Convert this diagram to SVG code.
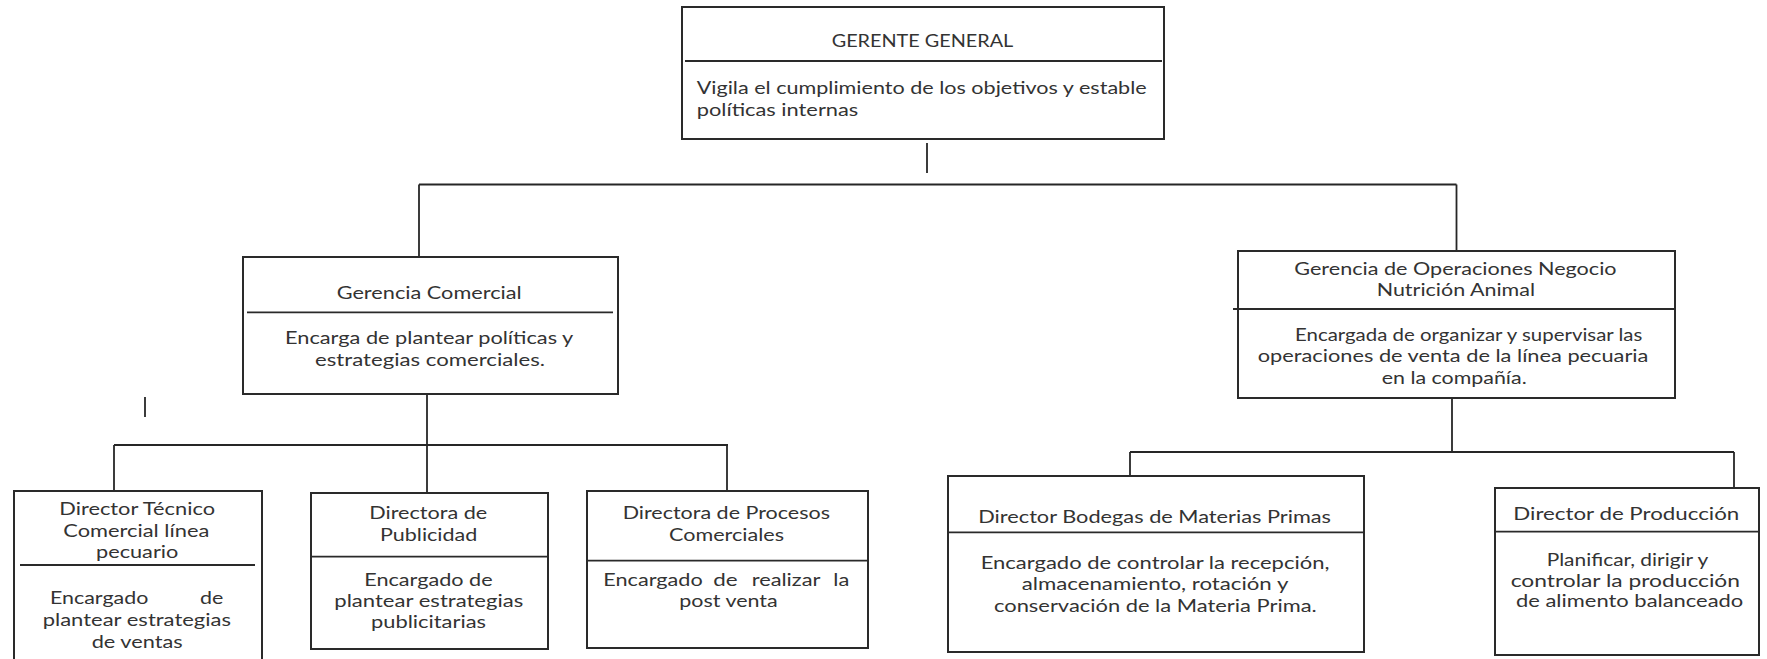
<svg xmlns="http://www.w3.org/2000/svg" width="1767" height="659" viewBox="0 0 1767 659">
  <style>
    .box { fill: #ffffff; stroke: #2a2a2a; stroke-width: 2; }
    .sep { stroke: #2a2a2a; stroke-width: 1.8; fill: none; }
    .conn { stroke: #262626; stroke-width: 1.8; fill: none; }
    text { font-family: Lato, "Open Sans", "Liberation Sans", sans-serif; fill: #333333; }
    .title { font-size: 16.5px; }
    .body { font-size: 17.5px; }
    .lead { font-size: 18px; }
  </style>
  <rect x="0" y="0" width="1767" height="659" fill="#ffffff"/>

  <!-- connectors of the chart -->
  <g id="connectors">
    <path class="conn" d="M927 143 V173"/>
    <path class="conn" d="M419 184.5 H1456.5"/>
    <path class="conn" d="M419 184.5 V257"/>
    <path class="conn" d="M1456.5 184.5 V251"/>
    <path class="conn" d="M427 394 V445"/>
    <path class="conn" d="M114 445 H728"/>
    <path class="conn" d="M114 445 V491"/>
    <path class="conn" d="M427 445 V493"/>
    <path class="conn" d="M727 445 V491"/>
    <path class="conn" d="M145 397 V417"/>
    <path class="conn" d="M1452 398 V452"/>
    <path class="conn" d="M1130 452 H1734"/>
    <path class="conn" d="M1130 452 V476"/>
    <path class="conn" d="M1734 452 V488"/>
  </g>

  <g id="gerente-general">
    <rect class="box" x="682" y="7" width="482" height="132"/>
    <line class="sep" x1="685" y1="61" x2="1162" y2="61"/>
    <text class="title" x="831.7" y="46.7" textLength="181.6" lengthAdjust="spacingAndGlyphs">GERENTE GENERAL</text>
    <text class="lead" x="696.7" y="94" textLength="450" lengthAdjust="spacingAndGlyphs">Vigila el cumplimiento de los objetivos y estable</text>
    <text class="lead" x="696.7" y="115.7" textLength="161.6" lengthAdjust="spacingAndGlyphs">políticas internas</text>
  </g>

  <g id="gerencia-comercial">
    <rect class="box" x="243" y="257" width="375" height="137"/>
    <line class="sep" x1="247" y1="312.3" x2="613" y2="312.3"/>
    <text class="title" x="336.7" y="299.3" textLength="185" lengthAdjust="spacingAndGlyphs">Gerencia Comercial</text>
    <text class="body" x="285" y="344" textLength="288.3" lengthAdjust="spacingAndGlyphs">Encarga de plantear políticas y</text>
    <text class="body" x="315" y="366" textLength="230" lengthAdjust="spacingAndGlyphs">estrategias comerciales.</text>
  </g>

  <g id="gerencia-operaciones">
    <rect class="box" x="1238" y="251" width="437" height="147"/>
    <line class="sep" x1="1233" y1="309" x2="1675" y2="309"/>
    <text class="title" x="1294.3" y="274.5" textLength="322.3" lengthAdjust="spacingAndGlyphs">Gerencia de Operaciones Negocio</text>
    <text class="title" x="1376.7" y="295.5" textLength="158.3" lengthAdjust="spacingAndGlyphs">Nutrición Animal</text>
    <text class="body" x="1295" y="340.5" textLength="347.3" lengthAdjust="spacingAndGlyphs">Encargada de organizar y supervisar las</text>
    <text class="body" x="1257.7" y="362.3" textLength="390.7" lengthAdjust="spacingAndGlyphs">operaciones de venta de la línea pecuaria</text>
    <text class="body" x="1381.7" y="384" textLength="145" lengthAdjust="spacingAndGlyphs">en la compañía.</text>
  </g>

  <g id="director-tecnico">
    <rect class="box" x="14" y="491" width="248" height="175"/>
    <line class="sep" x1="20" y1="565" x2="255" y2="565"/>
    <text class="title" x="59.3" y="515" textLength="155.7" lengthAdjust="spacingAndGlyphs">Director Técnico</text>
    <text class="title" x="63.3" y="537.3" textLength="146" lengthAdjust="spacingAndGlyphs">Comercial línea</text>
    <text class="title" x="96" y="558.3" textLength="82.3" lengthAdjust="spacingAndGlyphs">pecuario</text>
    <text class="body" x="50" y="604" textLength="98.3" lengthAdjust="spacingAndGlyphs">Encargado</text>
    <text class="body" x="200" y="604" textLength="23.3" lengthAdjust="spacingAndGlyphs">de</text>
    <text class="body" x="42.7" y="626" textLength="188.3" lengthAdjust="spacingAndGlyphs">plantear estrategias</text>
    <text class="body" x="91.7" y="648" textLength="91" lengthAdjust="spacingAndGlyphs">de ventas</text>
  </g>

  <g id="directora-publicidad">
    <rect class="box" x="311" y="493" width="237" height="156"/>
    <line class="sep" x1="311" y1="556.7" x2="548" y2="556.7"/>
    <text class="title" x="369.3" y="519" textLength="118" lengthAdjust="spacingAndGlyphs">Directora de</text>
    <text class="title" x="380" y="540.7" textLength="97.3" lengthAdjust="spacingAndGlyphs">Publicidad</text>
    <text class="body" x="364.3" y="585.5" textLength="128.3" lengthAdjust="spacingAndGlyphs">Encargado de</text>
    <text class="body" x="334.3" y="607.3" textLength="189" lengthAdjust="spacingAndGlyphs">plantear estrategias</text>
    <text class="body" x="371" y="628" textLength="115" lengthAdjust="spacingAndGlyphs">publicitarias</text>
  </g>

  <g id="directora-procesos">
    <rect class="box" x="587" y="491" width="281" height="157"/>
    <line class="sep" x1="587" y1="560.7" x2="868" y2="560.7"/>
    <text class="title" x="622.7" y="519" textLength="207.3" lengthAdjust="spacingAndGlyphs">Directora de Procesos</text>
    <text class="title" x="669" y="541" textLength="115" lengthAdjust="spacingAndGlyphs">Comerciales</text>
    <text class="body" y="585.5">
      <tspan x="603.3" textLength="99.4" lengthAdjust="spacingAndGlyphs">Encargado</tspan>
      <tspan x="713.3" textLength="24.4" lengthAdjust="spacingAndGlyphs">de</tspan>
      <tspan x="751.7" textLength="68.3" lengthAdjust="spacingAndGlyphs">realizar</tspan>
      <tspan x="833.3" textLength="16" lengthAdjust="spacingAndGlyphs">la</tspan>
    </text>
    <text class="body" x="679.3" y="607" textLength="98.4" lengthAdjust="spacingAndGlyphs">post venta</text>
  </g>

  <g id="director-bodegas">
    <rect class="box" x="948" y="476" width="416" height="176"/>
    <line class="sep" x1="948" y1="532.3" x2="1364" y2="532.3"/>
    <text class="title" x="978.3" y="523.3" textLength="352.7" lengthAdjust="spacingAndGlyphs">Director Bodegas de Materias Primas</text>
    <text class="body" x="980.7" y="569" textLength="348.7" lengthAdjust="spacingAndGlyphs">Encargado de controlar la recepción,</text>
    <text class="body" x="1021.7" y="589.5" textLength="266.7" lengthAdjust="spacingAndGlyphs">almacenamiento, rotación y</text>
    <text class="body" x="994" y="612" textLength="322.7" lengthAdjust="spacingAndGlyphs">conservación de la Materia Prima.</text>
  </g>

  <g id="director-produccion">
    <rect class="box" x="1495" y="488" width="264" height="167"/>
    <line class="sep" x1="1495" y1="531.7" x2="1759" y2="531.7"/>
    <text class="title" x="1513.3" y="519.5" textLength="226" lengthAdjust="spacingAndGlyphs">Director de Producción</text>
    <text class="body" x="1546.7" y="565.5" textLength="161.7" lengthAdjust="spacingAndGlyphs">Planificar, dirigir y</text>
    <text class="body" x="1510.7" y="586.5" textLength="229.3" lengthAdjust="spacingAndGlyphs">controlar la producción</text>
    <text class="body" x="1516" y="606.5" textLength="227.3" lengthAdjust="spacingAndGlyphs">de alimento balanceado</text>
  </g>
</svg>
